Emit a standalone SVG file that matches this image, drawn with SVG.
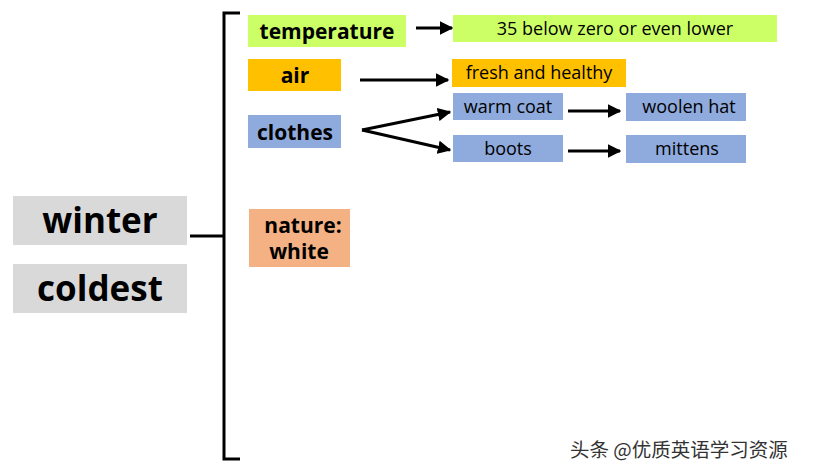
<svg xmlns="http://www.w3.org/2000/svg" width="813" height="475" viewBox="0 0 813 475">
<style>
.b{font-family:"Open Sans","Noto Sans","Liberation Sans",sans-serif;font-weight:bold;fill:#000;text-anchor:middle}
.n{font-family:"Open Sans","Noto Sans","Liberation Sans",sans-serif;fill:#000;text-anchor:middle;font-size:18px}
.c{stroke:#000;stroke-width:3;fill:none}
</style>
<defs><marker id="a" viewBox="0 0 10 10" refX="9" refY="5" markerWidth="4.5" markerHeight="4.5" orient="auto"><path d="M0,0L10,5L0,10z" fill="#000"/></marker></defs>
<rect width="813" height="475" fill="#fff"/>
<g id="winter"><rect x="13" y="196" width="174" height="49" fill="#d9d9d9"/><text class="b" x="100" y="233" font-size="35">winter</text></g>
<g id="coldest"><rect x="13" y="264" width="174" height="49" fill="#d9d9d9"/><text class="b" x="100" y="301" font-size="35">coldest</text></g>
<g id="temperature"><rect x="248" y="15" width="158" height="32" fill="#ccff66"/><text class="b" x="327" y="39" font-size="21">temperature</text></g>
<g id="below"><rect x="453" y="15" width="324" height="27" fill="#ccff66"/><text class="n" x="615" y="35">35 below zero or even lower</text></g>
<g id="air"><rect x="248" y="59" width="93" height="32" fill="#ffc000"/><text class="b" x="295" y="83" font-size="21">air</text></g>
<g id="fresh"><rect x="452" y="59" width="174" height="28" fill="#ffc000"/><text class="n" x="539" y="79">fresh and healthy</text></g>
<g id="clothes"><rect x="248" y="115" width="93" height="33" fill="#8faadc"/><text class="b" x="295" y="140" font-size="21">clothes</text></g>
<g id="warmcoat"><rect x="453" y="93" width="110" height="27" fill="#8faadc"/><text class="n" x="508" y="113">warm coat</text></g>
<g id="woolenhat"><rect x="626" y="93" width="120" height="28" fill="#8faadc"/><text class="n" x="689" y="113">woolen hat</text></g>
<g id="boots"><rect x="453" y="135" width="110" height="27" fill="#8faadc"/><text class="n" x="508" y="155">boots</text></g>
<g id="mittens"><rect x="626" y="135" width="120" height="28" fill="#8faadc"/><text class="n" x="687" y="155">mittens</text></g>
<g id="nature"><rect x="249" y="209" width="101" height="58" fill="#f4b183"/><text class="b" x="303" y="233" font-size="21">nature:</text><text class="b" x="299" y="259" font-size="21">white</text></g>
<g id="connectors">
<path class="c" d="M190,236H224M240,13H224V459H240"/>
<path class="c" marker-end="url(#a)" d="M416,28H452"/>
<path class="c" marker-end="url(#a)" d="M360,80H448"/>
<path class="c" marker-end="url(#a)" d="M362,130L450,112"/>
<path class="c" marker-end="url(#a)" d="M362,130L450,150"/>
<path class="c" marker-end="url(#a)" d="M568,111H620"/>
<path class="c" marker-end="url(#a)" d="M568,151H620"/>
</g>
<text x="570" y="457" font-family="'Noto Sans CJK SC',sans-serif" font-size="19.5" fill="#333">头条 @优质英语学习资源</text>
</svg>
